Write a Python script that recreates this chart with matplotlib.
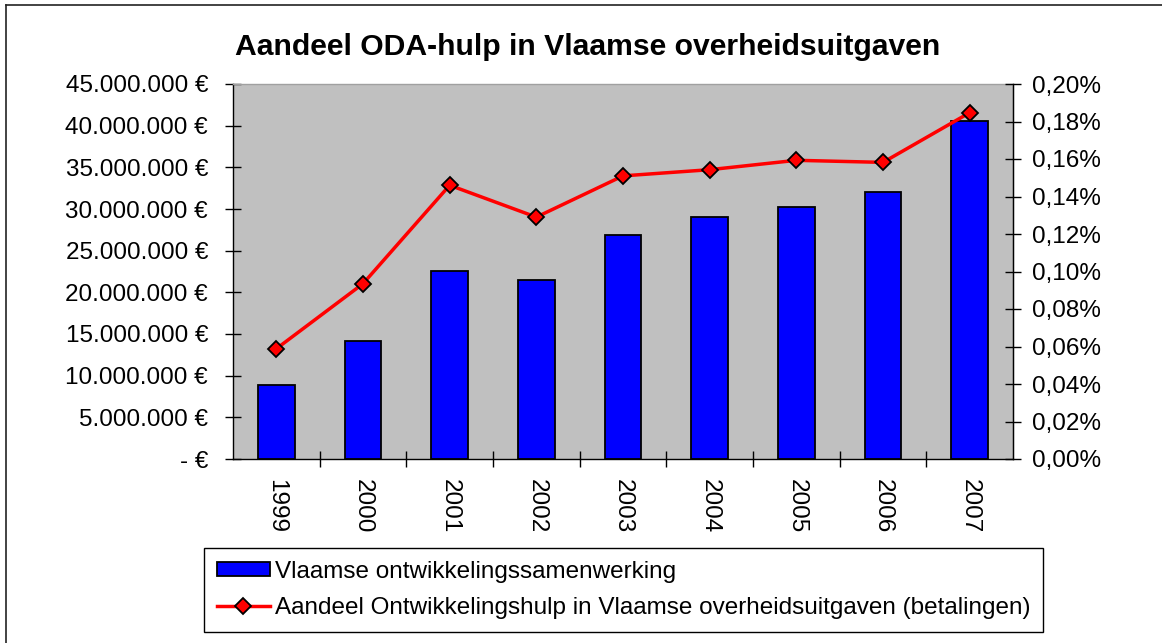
import matplotlib
matplotlib.use("Agg")
import matplotlib.pyplot as plt
from matplotlib.lines import Line2D
from matplotlib.patches import Patch
from matplotlib.ticker import FuncFormatter, FixedLocator

plt.rcParams['font.family'] = ['Liberation Sans', 'DejaVu Sans']

years = ['1999', '2000', '2001', '2002', '2003', '2004', '2005', '2006', '2007']
budget_eur = [8.9e6, 14.2e6, 22.6e6, 21.5e6, 26.9e6, 29.0e6, 30.2e6, 32.0e6, 40.6e6]
share_pct = [0.0588, 0.0935, 0.1460, 0.1290, 0.1510, 0.1543, 0.1593, 0.1582, 0.1847]

title = 'Aandeel ODA-hulp in Vlaamse overheidsuitgaven'
bar_label = 'Vlaamse ontwikkelingssamenwerking'
line_label = 'Aandeel Ontwikkelingshulp in Vlaamse overheidsuitgaven (betalingen)'

W, H = 1162, 643
FS = 17.5
fig = plt.figure(figsize=(W / 100, H / 100), dpi=100)
fig.patch.set_facecolor('white')

L, R, T, B = 233, 1013, 84, 459
ax = fig.add_axes([L / W, 1 - B / H, (R - L) / W, (B - T) / H])
ax.set_facecolor('#C0C0C0')
x = list(range(len(years)))
ax.bar(x, budget_eur, width=0.42, color='#0000FF', edgecolor='black', linewidth=1.3, zorder=2)
ax.set_xlim(-0.5, len(years) - 0.5)
ax.set_ylim(0, 45e6)
ax.yaxis.set_major_locator(FixedLocator([i * 5e6 for i in range(10)]))

def eur_fmt(v, pos):
    if abs(v) < 1:
        return '- €'
    return '{:,.0f} €'.format(v).replace(',', '.')

ax.yaxis.set_major_formatter(FuncFormatter(eur_fmt))
ax.set_xticks(x)
ax.set_xticklabels(years, rotation=-90, fontsize=FS)
ax.set_xticks([i + 0.5 for i in range(len(years) - 1)], minor=True)
ax.tick_params(axis='x', which='major', length=0, pad=14.5)
ax.tick_params(axis='x', which='minor', direction='inout', length=12, width=1)
ax.tick_params(axis='y', direction='inout', length=11, width=1, pad=12.5, labelsize=FS)
for s in ['left', 'bottom', 'right']:
    ax.spines[s].set_color('black')
    ax.spines[s].set_linewidth(1)
ax.spines['top'].set_color('#A0A0A0')
ax.spines['top'].set_linewidth(1)

ax2 = ax.twinx()
ax2.plot(x, share_pct, color='#FF0000', linewidth=2.5, marker='D', markersize=8,
         markerfacecolor='#FF0000', markeredgecolor='black', markeredgewidth=1.3, zorder=3)
ax2.set_ylim(0, 0.20)
ax2.yaxis.set_major_locator(FixedLocator([i * 0.02 for i in range(11)]))
ax2.yaxis.set_major_formatter(FuncFormatter(lambda v, p: '{:.2f}%'.format(v).replace('.', ',')))
ax2.tick_params(axis='y', direction='inout', length=11, width=1, pad=8.2, labelsize=FS)
ax2.spines['right'].set_color('black')
ax2.spines['top'].set_visible(False)
ax2.spines['left'].set_visible(False)
ax2.spines['bottom'].set_visible(False)

fig.text(588 / W, 1 - 47 / H, title, ha='center', va='center', fontsize=21.7, fontweight='bold')

handles = [Patch(facecolor='#0000FF', edgecolor='black', linewidth=1.3),
           Line2D([0], [0], color='#FF0000', linewidth=2.5, marker='D', markersize=8,
                  markerfacecolor='#FF0000', markeredgecolor='black', markeredgewidth=1.3)]
leg = fig.legend(handles, [bar_label, line_label], loc='upper left',
                 bbox_to_anchor=(204 / W, 1 - 548 / H), fontsize=FS,
                 frameon=True, fancybox=False, shadow=False, framealpha=1,
                 edgecolor='black', handlelength=2.2, handleheight=0.5, handletextpad=0.2,
                 borderpad=0.52, labelspacing=0.6, borderaxespad=0)
leg.get_frame().set_linewidth(1)

fig.add_artist(Line2D([6 / W, 6 / W], [-0.02, 1 - 5 / H], color='#222222', linewidth=1.2,
                      transform=fig.transFigure))
fig.add_artist(Line2D([6 / W, 1.02], [1 - 5 / H, 1 - 5 / H], color='#222222', linewidth=1.2,
                      transform=fig.transFigure))

fig.savefig('out.png', dpi=100)
